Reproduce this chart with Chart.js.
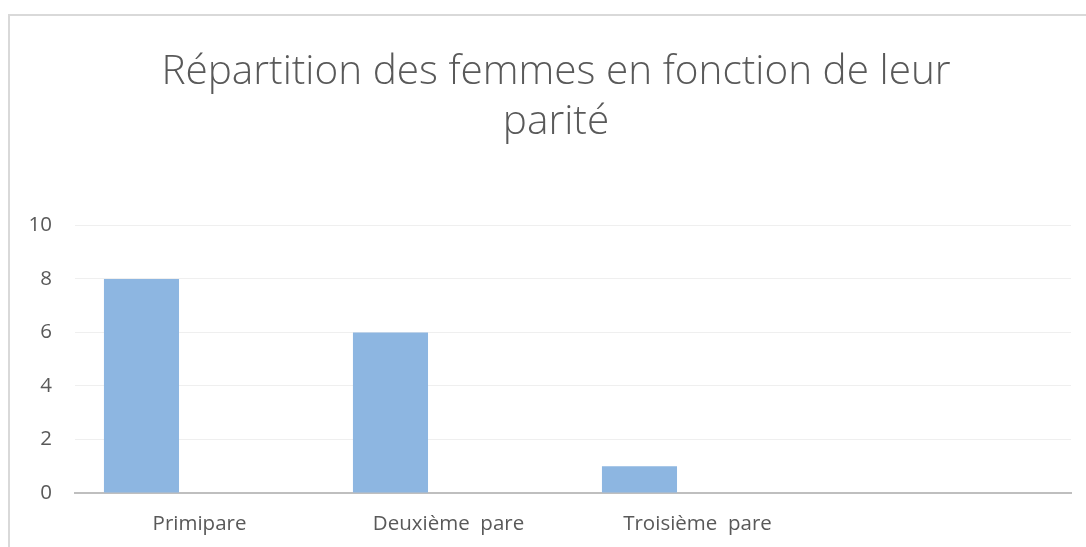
<!DOCTYPE html>
<html>
<head>
<meta charset="utf-8">
<script src="https://cdn.jsdelivr.net/npm/chart.js@4"></script>
<style>
  html, body { margin: 0; padding: 0; background: #fff; overflow: hidden; }
  #frame {
    position: absolute; left: 8px; top: 14px;
    width: 1092px; height: 540px;
    border-left: 2px solid #d9d9d9; border-top: 2px solid #d9d9d9;
  }
  #parityChart { display: block; }
</style>
</head>
<body>
<div id="frame"><canvas id="parityChart" width="1092" height="540"></canvas></div>
<script>
const categories = ["Primipare", "Deuxième  pare", "Troisième  pare", ""];
const womenCount = [8, 6, 1, null];
const emptySeries = [null, null, null, null];
const yTicks = [0, 2, 4, 6, 8, 10];

const ctx = document.getElementById("parityChart").getContext("2d");

const parityChart = new Chart(ctx, {
  type: "bar",
  data: {
    labels: categories,
    datasets: [
      {
        label: "Femmes",
        data: womenCount,
        backgroundColor: "#8db6e1",
        borderWidth: 0,
        categoryPercentage: 0.932,
        barPercentage: 0.647,
      },
      {
        label: "",
        data: emptySeries,
        backgroundColor: "#8db6e1",
        borderWidth: 0,
        categoryPercentage: 0.932,
        barPercentage: 0.647,
      },
    ],
  },
  options: {
    responsive: false,
    animation: false,
    layout: { padding: { left: 0, right: 0, top: 0, bottom: 21 } },
    plugins: {
      legend: { display: false },
      tooltip: { enabled: false },
      title: {
        display: true,
        text: ["Répartition des femmes en fonction de leur", "parité"],
        color: "#595959",
        font: { family: "'Open Sans'", size: 40.5, weight: "300", lineHeight: 1.24 },
        padding: { top: 31, bottom: 78 },
      },
    },
    scales: {
      x: {
        grid: { display: false, drawTicks: false },
        border: { color: "#bfbfbf", width: 2 },
        ticks: {
          color: "#595959",
          font: { family: "'Open Sans'", size: 20.5 },
          padding: 19,
          maxRotation: 0,
        },
        afterFit: (scale) => { scale.height = 42; },
      },
      y: {
        min: 0,
        max: 10,
        afterBuildTicks: (scale) => { scale.ticks = yTicks.map((v) => ({ value: v })); },
        grid: { color: "#efefef", drawTicks: false },
        border: { display: false },
        ticks: {
          color: "#595959",
          font: { family: "'Open Sans'", size: 20.5 },
          padding: 23,
        },
        afterFit: (scale) => { scale.width = 65; },
      },
      // empty right margin so the title stays centred on the whole frame
      yRight: {
        position: "right",
        min: 0,
        max: 10,
        grid: { display: false, drawTicks: false },
        border: { display: false },
        ticks: { display: false },
        afterFit: (scale) => { scale.width = 31; },
      },
    },
  },
});
</script>
</body>
</html>
